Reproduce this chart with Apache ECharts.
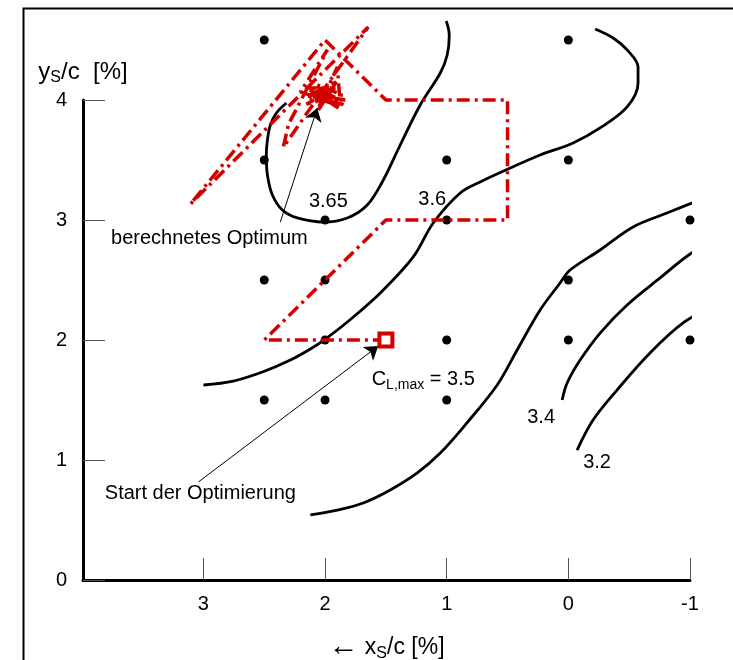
<!DOCTYPE html>
<html>
<head>
<meta charset="utf-8">
<script src="https://cdn.jsdelivr.net/npm/echarts@6/dist/echarts.min.js"></script>
<style>
html,body{margin:0;padding:0;background:#fff;}
#c{width:733px;height:660px;}
</style>
</head>
<body>
<div id="c"></div>
<script>
// ---- data (x_S/c [%], y_S/c [%]) ----
const xTicks = [3, 2, 1, 0, -1];
const yTicks = [0, 1, 2, 3, 4];
const gridPoints = [
  [2.5, 4.5], [0, 4.5],
  [2.5, 3.5], [1, 3.5], [0, 3.5],
  [2, 3], [1, 3], [-1, 3],
  [2.5, 2.5], [2, 2.5], [0, 2.5],
  [2, 2], [1, 2], [0, 2], [-1, 2],
  [2.5, 1.5], [2, 1.5], [1, 1.5]
];
const contour365 = [
  [2.318, 3.975], [2.40, 3.892], [2.45, 3.792], [2.474, 3.667], [2.483, 3.542],
  [2.474, 3.375], [2.433, 3.208], [2.351, 3.083], [2.228, 3.017], [2.014, 2.983],
  [1.817, 3.017], [1.653, 3.125], [1.53, 3.317], [1.382, 3.625], [1.218, 3.958],
  [1.053, 4.225], [0.996, 4.375], [0.979, 4.542], [1.004, 4.658]
];
const contour36 = [
  [3.0, 1.625], [2.754, 1.658], [2.515, 1.733], [2.285, 1.833], [2.121, 1.925],
  [1.998, 2.008], [1.817, 2.15], [1.546, 2.392], [1.275, 2.692], [1.111, 2.975],
  [0.889, 3.225], [0.725, 3.317], [0.478, 3.433], [0.232, 3.542], [-0.039, 3.642],
  [-0.261, 3.767], [-0.483, 3.942], [-0.573, 4.142], [-0.573, 4.275], [-0.483, 4.417],
  [-0.368, 4.517], [-0.22, 4.592]
];
const contour35 = [
  [2.121, 0.542], [1.899, 0.583], [1.686, 0.642], [1.464, 0.75], [1.242, 0.892],
  [1.053, 1.058], [0.848, 1.292], [0.585, 1.625], [0.421, 1.917], [0.232, 2.25],
  [0.068, 2.475], [-0.014, 2.583], [-0.261, 2.75], [-0.532, 2.942], [-0.811, 3.058],
  [-1.082, 3.167], [-1.353, 3.267]
];
const contour34 = [
  [0.051, 1.5], [0.01, 1.642], [-0.097, 1.833], [-0.261, 2.058], [-0.483, 2.292],
  [-0.754, 2.517], [-1.025, 2.733], [-1.353, 2.9]
];
const contour32 = [
  [-0.072, 1.083], [-0.203, 1.333], [-0.4, 1.583], [-0.671, 1.892], [-0.943, 2.142],
  [-1.222, 2.308], [-1.353, 2.417]
];
const optPath = [
  [1.5, 2], [2.5, 2], [1.5, 3], [0.5, 3], [0.5, 4], [1.5, 4], [2.0, 4.5],
  [3.107, 3.133], [1.645, 4.608], [2.039, 4.05], [2.343, 3.608], [2.30, 3.80],
  [1.98, 4.42], [2.203, 4.067], [1.875, 3.958], [1.899, 4.275], [2.055, 3.933],
  [1.973, 4.125], [2.121, 4.0], [1.834, 4.0], [2.105, 4.042], [1.916, 4.1],
  [2.162, 4.1], [1.957, 3.983], [2.039, 4.083], [2.023, 4.033], [2.08, 4.01],
  [2.121, 4.083], [1.891, 3.933], [2.08, 4.133], [1.858, 4.042], [2.154, 3.967],
  [1.957, 4.067], [2.055, 3.917], [1.908, 4.15], [2.105, 4.05], [1.842, 3.95],
  [2.023, 4.1], [2.138, 4.033], [1.924, 3.967], [1.99, 4.05], [2.072, 4.067],
  [1.99, 4.06], [2.06, 4.07], [2.0, 4.02]
];
const startPoint = [[1.5, 2]];
const labels = [
  {name: '3.65', value: [1.973, 3.158]},
  {name: '3.6', value: [1.119, 3.167]},
  {name: '{c|C}{s|L,max}{c| = 3.5}', value: [1.193, 1.667]},
  {name: '3.4', value: [0.224, 1.358]},
  {name: '3.2', value: [-0.236, 0.983]},
  {name: 'berechnetes Optimum', value: [2.951, 2.85]},
  {name: 'Start der Optimierung', value: [3.025, 0.717]}
];
const arrows = [
  {coords: [[2.368, 2.983], [2.064, 3.933]]},
  {coords: [[3.041, 0.817], [1.563, 1.95]]}
];

const FONT = 'Liberation Sans';
const RED = '#d40000';
const chart = echarts.init(document.getElementById('c'), null, {renderer: 'canvas'});
const contourStyle = {color: '#000', width: 2.8};
function contour(d) {
  return {type: 'line', data: d, smooth: 0.35, showSymbol: false, clip: false,
    lineStyle: contourStyle, z: 3, silent: true};
}
chart.setOption({
  animation: false,
  backgroundColor: '#fff',
  textStyle: {fontFamily: FONT},
  graphic: [{type: 'rect', left: 21, top: 6, z: 0,
    shape: {width: 760, height: 700},
    style: {fill: 'none', stroke: '#000', lineWidth: 2}}],
  grid: {left: 83, right: 43, top: 100, bottom: 80, containLabel: false, outerBoundsMode: 'none'},
  xAxis: {
    type: 'value', inverse: true, min: -1, max: 3.99,
    axisLine: {onZero: false, lineStyle: {color: '#000', width: 3}},
    axisTick: {inside: true, length: 22, customValues: xTicks, lineStyle: {color: '#555', width: 1}},
    axisLabel: {customValues: xTicks, fontSize: 20, color: '#000', margin: 14, fontFamily: FONT},
    splitLine: {show: false},
    name: '{r|\u2190}{a| x}{s|S}{a|/c [%]}', nameLocation: 'middle', nameGap: 54,
    nameTextStyle: {rich: {
      r: {fontSize: 30, color: '#000', fontFamily: FONT, lineHeight: 28, padding: [0, 0, 2, 0]},
      a: {fontSize: 23, color: '#000', fontFamily: FONT, lineHeight: 28},
      s: {fontSize: 16, color: '#000', fontFamily: FONT, lineHeight: 16, verticalAlign: 'bottom', padding: [14, 0, 0, 0]}
    }}
  },
  yAxis: {
    type: 'value', min: 0, max: 4, interval: 1, position: 'left',
    axisLine: {show: true, onZero: false, lineStyle: {color: '#000', width: 3}},
    axisTick: {show: true, inside: true, length: 22, lineStyle: {color: '#555', width: 1}},
    axisLabel: {fontSize: 20, color: '#000', margin: 16, fontFamily: FONT},
    splitLine: {show: false},
    name: '{a|y}{s|S}{a|/c  [%]}', nameLocation: 'end', nameGap: 14,
    nameTextStyle: {align: 'center', rich: {
      a: {fontSize: 24, color: '#000', fontFamily: FONT, lineHeight: 28},
      s: {fontSize: 16, color: '#000', fontFamily: FONT, lineHeight: 16, verticalAlign: 'bottom', padding: [14, 0, 0, 0]}
    }}
  },
  series: [
    contour(contour365), contour(contour36), contour(contour35), contour(contour34), contour(contour32),
    {type: 'scatter', data: gridPoints, symbolSize: 9, itemStyle: {color: '#000', opacity: 1}, clip: false, z: 4, silent: true},
    {type: 'line', data: optPath, showSymbol: false, clip: false, z: 5, silent: true,
      lineStyle: {color: RED, width: 3.5, type: [13, 5, 3, 5], cap: 'butt'}},
    {type: 'scatter', data: startPoint, symbol: 'rect', symbolSize: 13, clip: false, z: 6, silent: true,
      itemStyle: {color: '#fff', borderColor: RED, borderWidth: 4, opacity: 1}},
    {type: 'lines', coordinateSystem: 'cartesian2d', data: arrows, z: 6, silent: true,
      symbol: ['none', 'arrow'], symbolSize: 13,
      lineStyle: {color: '#000', width: 1, opacity: 1}},
    {type: 'scatter', data: labels, symbolSize: 0, clip: false, z: 7, silent: true,
      itemStyle: {opacity: 1},
      label: {show: true, position: 'inside', formatter: p => p.name,
        fontSize: 20, color: '#000', fontFamily: FONT,
        rich: {
          c: {fontSize: 20, color: '#000', fontFamily: FONT, lineHeight: 24},
          s: {fontSize: 14, color: '#000', fontFamily: FONT, lineHeight: 14, verticalAlign: 'bottom', padding: [12, 0, 0, 0]}
        }}}
  ]
});
</script>
</body>
</html>
